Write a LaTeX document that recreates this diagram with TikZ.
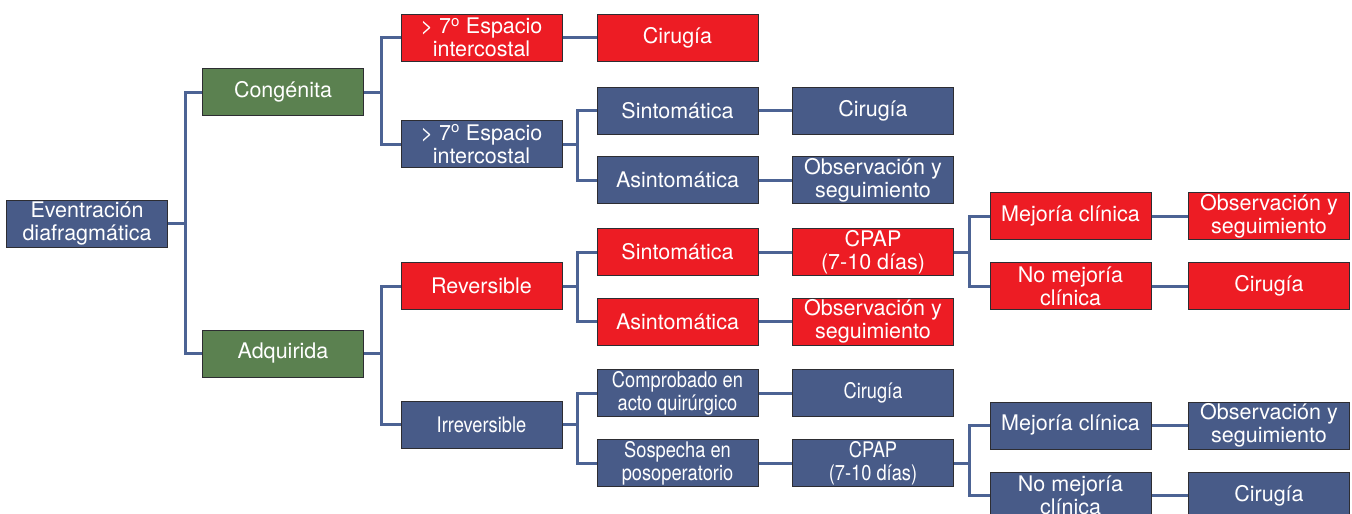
\documentclass[tikz,border=0pt]{standalone}
\usepackage{fontspec}
\setmainfont{TeX Gyre Heros}
\newfontfamily\condfont[FakeStretch=0.85]{TeX Gyre Heros}
\definecolor{cblue}{RGB}{72,91,136}
\definecolor{cred}{RGB}{237,28,36}
\definecolor{cgreen}{RGB}{91,129,80}
\definecolor{cline}{RGB}{76,99,148}
\definecolor{cborder}{RGB}{45,45,50}
\tikzset{
  bx/.style={draw=cborder, line width=1pt, minimum width=161pt, minimum height=47pt,
    inner sep=0pt, align=center, text=white, font=\fontsize{21.5}{23}\selectfont},
  bb/.style={bx, fill=cblue},
  br/.style={bx, fill=cred},
  bg/.style={bx, fill=cgreen},
  cond/.style={font=\fontsize{21.5}{23}\condfont},
  conn/.style={draw=cline, line width=3pt},
}
\begin{document}
\begin{tikzpicture}[x=1pt,y=-1pt]
\useasboundingbox (0,0) rectangle (1352,514);
% level 0
\node[bb] (root) at (87,223.5) {Eventración\\diafragmática};
% level 1
\node[bg] (cong) at (283,92) {Congénita};
\node[bg] (adq) at (283,353.5) {Adquirida};
% level 2
\node[br] (ic1) at (481.5,37.5) {> 7\textsuperscript{o} Espacio\\intercostal};
\node[bb] (ic2) at (481.5,144) {> 7\textsuperscript{o} Espacio\\intercostal};
\node[br] (rev) at (481.5,286) {Reversible};
\node[bb,cond] (irr) at (481.5,424.5) {Irreversible};
% level 3
\node[br] (cir1) at (677.5,37.5) {Cirugía};
\node[bb] (sin1) at (677.5,110.5) {Sintomática};
\node[bb] (asin1) at (677.5,180) {Asintomática};
\node[br] (sin2) at (677.5,252) {Sintomática};
\node[br] (asin2) at (677.5,321.5) {Asintomática};
\node[bb,cond] (comp) at (677.5,393) {Comprobado en\\acto quirúrgico};
\node[bb,cond] (sosp) at (677.5,463) {Sospecha en\\posoperatorio};
% level 4
\node[bb] (cir2) at (873,110.5) {Cirugía};
\node[bb] (obs1) at (873,180) {Observación y\\seguimiento};
\node[br] (cpap1) at (873,252) {CPAP\\(7-10 días)};
\node[br] (obs2) at (873,321.5) {Observación y\\seguimiento};
\node[bb,cond] (cir3) at (873,393) {Cirugía};
\node[bb,cond] (cpap2) at (873,463) {CPAP\\(7-10 días)};
% level 5
\node[br] (mej1) at (1070.5,216) {Mejoría clínica};
\node[br] (nomej1) at (1070.5,286) {No mejoría\\clínica};
\node[bb] (mej2) at (1070.5,425.5) {Mejoría clínica};
\node[bb] (nomej2) at (1070.5,495.5) {No mejoría\\clínica};
% level 6
\node[br] (obs3) at (1269,216) {Observación y\\seguimiento};
\node[br] (cir4) at (1269,286) {Cirugía};
\node[bb] (obs4) at (1269,425.5) {Observación y\\seguimiento};
\node[bb] (cir5) at (1269,495.5) {Cirugía};
% connectors
\foreach \a/\b/\s in {root/cong/17,root/adq/17,
  cong/ic1/19,cong/ic2/19,adq/rev/19,adq/irr/19,
  ic2/sin1/19,ic2/asin1/19,rev/sin2/19,rev/asin2/19,irr/comp/19,irr/sosp/19,
  cpap1/mej1/20,cpap1/nomej1/20,cpap2/mej2/20,cpap2/nomej2/20}
  \draw[conn] (\a.east) -| ([xshift=-\s pt]\b.west) -- (\b.west);
\foreach \a/\b in {ic1/cir1,sin1/cir2,asin1/obs1,sin2/cpap1,asin2/obs2,comp/cir3,sosp/cpap2,
  mej1/obs3,nomej1/cir4,mej2/obs4,nomej2/cir5}
  \draw[conn] (\a.east) -- (\b.west);
\end{tikzpicture}
\end{document}
